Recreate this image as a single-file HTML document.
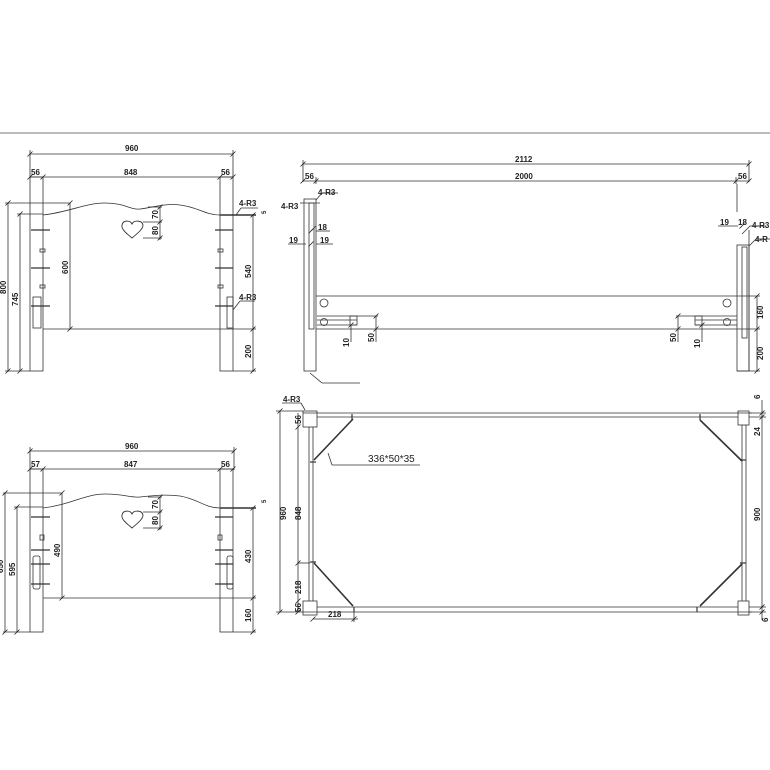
<!DOCTYPE html>
<html><head><meta charset="utf-8"><style>
html,body{margin:0;padding:0;background:#fff}
svg{display:block}
text{font-family:"Liberation Sans",sans-serif;font-size:8px;fill:#222;font-weight:bold}
</style></head><body>
<svg width="770" height="770" viewBox="0 0 770 770" xmlns="http://www.w3.org/2000/svg">
<defs>
<g id="tk"><line x1="-2.5" y1="2.5" x2="2.5" y2="-2.5" stroke="#222" stroke-width="0.8"/></g>
<path id="heart" d="M132,238 C126,233 121,229 122,225 C123,220 130,220 132,224 C134,220 142,220 143,225 C143,229 138,233 132,238 Z" fill="none" stroke="#333" stroke-width="0.9"/>
</defs>
<g fill="none" stroke="#333" stroke-width="0.8">
<line x1="0" y1="133" x2="770" y2="133" stroke="#777" stroke-width="1"/>

<!-- ===== TOP-LEFT VIEW ===== -->
<line x1="30" y1="154" x2="233" y2="154"/>
<line x1="30" y1="150" x2="30" y2="178"/><line x1="233" y1="150" x2="233" y2="178"/>
<line x1="30" y1="177" x2="233" y2="177"/>
<rect x="30" y="177" width="13" height="194"/>
<rect x="220" y="177" width="13" height="194"/>
<line x1="5" y1="203" x2="70" y2="203"/>
<line x1="17" y1="214" x2="43" y2="214"/>
<line x1="8" y1="203" x2="8" y2="371"/>
<line x1="20" y1="214" x2="20" y2="371"/>
<line x1="5" y1="371" x2="30" y2="371"/>
<path d="M43,215 C70,212 85,203 105,203 C125,203 130,210 140,209 C150,208 165,203 180,205 C198,207 205,215 220,215"/>
<line x1="220" y1="215" x2="256" y2="215" stroke-width="1.4"/>
<line x1="70" y1="203" x2="70" y2="329"/>
<line x1="43" y1="329" x2="256" y2="329"/>
<line x1="233" y1="371" x2="256" y2="371"/>
<line x1="253" y1="215" x2="253" y2="371"/>
<use href="#heart"/>
<line x1="143" y1="222" x2="162" y2="222"/><line x1="143" y1="238" x2="162" y2="238"/>
<line x1="148" y1="207" x2="162" y2="207"/>
<line x1="160" y1="207" x2="160" y2="240"/>
<line x1="31" y1="230" x2="50" y2="230" stroke-width="1.3"/><line x1="31" y1="268" x2="50" y2="268" stroke-width="1.3"/><line x1="31" y1="306" x2="50" y2="306" stroke-width="1.3"/>
<rect x="40" y="249" width="5" height="3"/><rect x="40" y="285" width="5" height="3"/>
<rect x="33" y="297" width="8" height="31"/>
<line x1="215" y1="230" x2="233" y2="230" stroke-width="1.3"/><line x1="215" y1="268" x2="233" y2="268" stroke-width="1.3"/><line x1="215" y1="306" x2="233" y2="306" stroke-width="1.3"/>
<rect x="218" y="249" width="5" height="3"/><rect x="218" y="285" width="5" height="3"/>
<rect x="227" y="297" width="6" height="31"/>
<line x1="233" y1="310" x2="240" y2="301"/><line x1="240" y1="301" x2="255" y2="301"/>
<line x1="236" y1="215" x2="241" y2="208"/><line x1="241" y1="208" x2="258" y2="208"/>

<!-- ===== BOTTOM-LEFT VIEW ===== -->
<line x1="30" y1="451" x2="234" y2="451"/>
<line x1="30" y1="447" x2="30" y2="470"/><line x1="234" y1="447" x2="234" y2="470"/>
<line x1="30" y1="469" x2="234" y2="469"/>
<rect x="30" y="469" width="13" height="163"/>
<rect x="220" y="469" width="13" height="163"/>
<line x1="3" y1="493" x2="62" y2="493"/>
<line x1="14" y1="507" x2="43" y2="507"/>
<line x1="5" y1="493" x2="5" y2="632"/>
<line x1="17" y1="507" x2="17" y2="632"/>
<line x1="3" y1="632" x2="30" y2="632"/>
<path d="M43,508 C70,505 85,494 105,494 C125,494 130,498 140,497 C150,496 165,494 180,496 C198,499 205,508 220,508"/>
<line x1="220" y1="508" x2="256" y2="508" stroke-width="1.4"/>
<line x1="62" y1="493" x2="62" y2="598"/>
<line x1="43" y1="598" x2="256" y2="598"/>
<line x1="233" y1="632" x2="256" y2="632"/>
<line x1="253" y1="508" x2="253" y2="632"/>
<use href="#heart" transform="translate(0,290)"/>
<line x1="143" y1="512" x2="162" y2="512"/><line x1="143" y1="528" x2="162" y2="528"/>
<line x1="148" y1="497" x2="162" y2="497"/>
<line x1="160" y1="497" x2="160" y2="530"/>
<line x1="31" y1="517" x2="50" y2="517" stroke-width="1.3"/><line x1="31" y1="550" x2="50" y2="550" stroke-width="1.3"/><line x1="31" y1="564" x2="50" y2="564" stroke-width="1.3"/><line x1="31" y1="584" x2="50" y2="584" stroke-width="1.3"/>
<rect x="40" y="535" width="4" height="5"/>
<rect x="33" y="556" width="7" height="33" rx="2"/>
<line x1="215" y1="517" x2="233" y2="517" stroke-width="1.3"/><line x1="215" y1="550" x2="233" y2="550" stroke-width="1.3"/><line x1="215" y1="564" x2="233" y2="564" stroke-width="1.3"/><line x1="215" y1="584" x2="233" y2="584" stroke-width="1.3"/>
<rect x="218" y="535" width="4" height="5"/>
<rect x="227" y="556" width="6" height="33" rx="2"/>

<!-- ===== TOP-RIGHT SIDE VIEW ===== -->
<line x1="303" y1="164" x2="749" y2="164"/>
<line x1="303" y1="160" x2="303" y2="182"/><line x1="749" y1="160" x2="749" y2="182"/>
<line x1="303" y1="181" x2="749" y2="181"/>
<line x1="316" y1="177" x2="316" y2="184"/><line x1="736" y1="177" x2="736" y2="184"/>
<rect x="304" y="199" width="12" height="172"/>
<rect x="309" y="203" width="5" height="126"/>
<line x1="316" y1="296" x2="760" y2="296"/>
<line x1="316" y1="329" x2="760" y2="329"/>
<line x1="737" y1="184" x2="737" y2="212"/>
<rect x="737" y="245" width="12" height="126"/>
<line x1="749" y1="230" x2="749" y2="371"/>
<rect x="742" y="247" width="5" height="91"/>
<line x1="737" y1="371" x2="760" y2="371"/>
<line x1="757" y1="296" x2="757" y2="371"/>
<circle cx="324" cy="303" r="4"/><circle cx="324" cy="322" r="3.5"/>
<circle cx="727" cy="303" r="4"/><circle cx="727" cy="322" r="3.5"/>
<line x1="317" y1="316" x2="357" y2="316"/><line x1="317" y1="320" x2="357" y2="320"/><line x1="317" y1="325" x2="357" y2="325"/>
<rect x="350" y="316" width="7" height="9"/>
<line x1="357" y1="316" x2="378" y2="316"/><line x1="376" y1="316" x2="376" y2="342"/>
<line x1="351" y1="325" x2="351" y2="342"/>
<line x1="695" y1="316" x2="737" y2="316"/><line x1="695" y1="320" x2="737" y2="320"/><line x1="695" y1="325" x2="737" y2="325"/>
<rect x="695" y="316" width="7" height="9"/>
<line x1="676" y1="316" x2="695" y2="316"/><line x1="678" y1="316" x2="678" y2="342"/>
<line x1="702" y1="325" x2="702" y2="342"/>
<line x1="310" y1="373" x2="322" y2="383"/><line x1="322" y1="383" x2="360" y2="383"/>
<line x1="300" y1="203" x2="320" y2="203"/><line x1="316" y1="200" x2="322" y2="193"/><line x1="322" y1="193" x2="338" y2="193"/>
<line x1="311" y1="231" x2="316" y2="226"/><line x1="316" y1="231" x2="330" y2="231"/>
<line x1="288" y1="244" x2="306" y2="244"/><line x1="316" y1="244" x2="333" y2="244"/>
<line x1="742" y1="234" x2="750" y2="226"/><line x1="750" y1="226" x2="766" y2="226"/>
<line x1="749" y1="246" x2="756" y2="239"/><line x1="756" y1="239" x2="770" y2="239"/>
<line x1="718" y1="226" x2="738" y2="226"/>

<!-- ===== BOTTOM-RIGHT PLAN VIEW ===== -->
<line x1="303" y1="413" x2="752" y2="413"/>
<line x1="317" y1="417" x2="738" y2="417"/>
<line x1="317" y1="607" x2="738" y2="607"/>
<line x1="303" y1="612" x2="752" y2="612"/>
<rect x="303" y="411" width="14" height="16"/>
<rect x="303" y="601" width="14" height="14"/>
<rect x="738" y="411" width="11" height="14"/>
<rect x="738" y="601" width="11" height="14"/>
<line x1="309" y1="427" x2="309" y2="601"/><line x1="313" y1="427" x2="313" y2="601"/>
<line x1="742" y1="425" x2="742" y2="601"/><line x1="746" y1="425" x2="746" y2="601"/>
<g stroke-width="1.6">
<line x1="314" y1="460" x2="353" y2="419"/>
<line x1="700" y1="420" x2="742" y2="461"/>
<line x1="314" y1="563" x2="353" y2="606"/>
<line x1="700" y1="606" x2="742" y2="564"/>
</g>
<g stroke-width="1.2">
<line x1="352" y1="414" x2="352" y2="420"/><line x1="700" y1="414" x2="700" y2="420"/>
<line x1="354" y1="607" x2="354" y2="612"/><line x1="697" y1="607" x2="697" y2="612"/>
<line x1="310" y1="462" x2="316" y2="462"/><line x1="310" y1="562" x2="316" y2="562"/>
<line x1="740" y1="460" x2="746" y2="460"/><line x1="740" y1="563" x2="746" y2="563"/>
</g>
<line x1="328" y1="453" x2="332" y2="465"/><line x1="332" y1="465" x2="420" y2="465"/>
<line x1="280" y1="411" x2="280" y2="612"/>
<line x1="298" y1="413" x2="298" y2="612"/>
<line x1="276" y1="411" x2="303" y2="411"/><line x1="276" y1="612" x2="303" y2="612"/>
<line x1="298" y1="563" x2="310" y2="563"/>
<line x1="313" y1="619" x2="358" y2="619"/><line x1="354" y1="612" x2="354" y2="622"/>
<line x1="282" y1="403" x2="301" y2="403"/><line x1="301" y1="403" x2="305" y2="410"/>
<line x1="762" y1="400" x2="762" y2="620"/>
<line x1="749" y1="413" x2="766" y2="413"/><line x1="749" y1="417" x2="766" y2="417"/>
<line x1="749" y1="607" x2="766" y2="607"/><line x1="749" y1="612" x2="766" y2="612"/>
</g>

<g>
<use href="#tk" x="30" y="154"/><use href="#tk" x="233" y="154"/>
<use href="#tk" x="30" y="177"/><use href="#tk" x="43" y="177"/><use href="#tk" x="220" y="177"/><use href="#tk" x="233" y="177"/>
<use href="#tk" x="8" y="203"/><use href="#tk" x="8" y="371"/><use href="#tk" x="20" y="214"/><use href="#tk" x="20" y="371"/>
<use href="#tk" x="70" y="203"/><use href="#tk" x="70" y="329"/>
<use href="#tk" x="253" y="215"/><use href="#tk" x="253" y="329"/><use href="#tk" x="253" y="371"/>
<use href="#tk" x="160" y="207"/><use href="#tk" x="160" y="222"/><use href="#tk" x="160" y="238"/>
<use href="#tk" x="30" y="451"/><use href="#tk" x="234" y="451"/>
<use href="#tk" x="30" y="469"/><use href="#tk" x="43" y="469"/><use href="#tk" x="220" y="469"/><use href="#tk" x="233" y="469"/>
<use href="#tk" x="5" y="493"/><use href="#tk" x="5" y="632"/><use href="#tk" x="17" y="507"/><use href="#tk" x="17" y="632"/>
<use href="#tk" x="62" y="493"/><use href="#tk" x="62" y="598"/>
<use href="#tk" x="253" y="508"/><use href="#tk" x="253" y="598"/><use href="#tk" x="253" y="632"/>
<use href="#tk" x="160" y="497"/><use href="#tk" x="160" y="512"/><use href="#tk" x="160" y="528"/>
<use href="#tk" x="303" y="164"/><use href="#tk" x="749" y="164"/>
<use href="#tk" x="303" y="181"/><use href="#tk" x="316" y="181"/><use href="#tk" x="736" y="181"/><use href="#tk" x="749" y="181"/>
<use href="#tk" x="757" y="296"/><use href="#tk" x="757" y="329"/><use href="#tk" x="757" y="371"/>
<use href="#tk" x="376" y="316"/><use href="#tk" x="376" y="329"/><use href="#tk" x="351" y="325"/>
<use href="#tk" x="678" y="316"/><use href="#tk" x="678" y="329"/><use href="#tk" x="702" y="325"/>
<use href="#tk" x="280" y="411"/><use href="#tk" x="280" y="612"/>
<use href="#tk" x="298" y="427"/><use href="#tk" x="298" y="563"/><use href="#tk" x="298" y="601"/><use href="#tk" x="298" y="612"/>
<use href="#tk" x="313" y="619"/><use href="#tk" x="354" y="619"/>
<use href="#tk" x="762" y="413"/><use href="#tk" x="762" y="417"/><use href="#tk" x="762" y="607"/><use href="#tk" x="762" y="612"/>
<use href="#tk" x="311" y="231"/><use href="#tk" x="311" y="244"/><use href="#tk" x="742" y="226"/>
</g>

<text x="125" y="151">960</text>
<text x="31" y="175">56</text><text x="124" y="175">848</text><text x="221" y="175">56</text>
<text x="239" y="206">4-R3</text><text x="239" y="300">4-R3</text>
<text transform="translate(266,214) rotate(-90)" style="font-size:6px">5</text>
<text transform="translate(6,294) rotate(-90)">800</text>
<text transform="translate(18,306) rotate(-90)">745</text>
<text transform="translate(68,274) rotate(-90)">600</text>
<text transform="translate(158,219) rotate(-90)">70</text>
<text transform="translate(158,235) rotate(-90)">80</text>
<text transform="translate(251,278) rotate(-90)">540</text>
<text transform="translate(251,358) rotate(-90)">200</text>

<text x="125" y="449">960</text>
<text x="31" y="467">57</text><text x="124" y="467">847</text><text x="221" y="467">56</text>
<text transform="translate(266,503) rotate(-90)" style="font-size:6px">5</text>
<text transform="translate(3,573) rotate(-90)">650</text>
<text transform="translate(15,576) rotate(-90)">595</text>
<text transform="translate(60,557) rotate(-90)">490</text>
<text transform="translate(158,509) rotate(-90)">70</text>
<text transform="translate(158,525) rotate(-90)">80</text>
<text transform="translate(251,563) rotate(-90)">430</text>
<text transform="translate(251,622) rotate(-90)">160</text>

<text x="515" y="162">2112</text>
<text x="515" y="179">2000</text>
<text x="305" y="179">56</text><text x="738" y="179">56</text>
<text x="318" y="195">4-R3</text><text x="281" y="209">4-R3</text>
<text x="318" y="230">18</text><text x="289" y="243">19</text><text x="320" y="243">19</text>
<text x="720" y="225">19</text><text x="738" y="225">18</text><text x="752" y="228">4-R3</text><text x="755" y="242">4-R</text>
<text transform="translate(763,319) rotate(-90)">160</text>
<text transform="translate(763,360) rotate(-90)">200</text>
<text transform="translate(349,347) rotate(-90)">10</text>
<text transform="translate(374,342) rotate(-90)">50</text>
<text transform="translate(676,342) rotate(-90)">50</text>
<text transform="translate(700,348) rotate(-90)">10</text>

<text x="283" y="402">4-R3</text>
<text x="368" y="462" style="font-size:10px;font-weight:normal">336*50*35</text>
<text transform="translate(286,520) rotate(-90)">960</text>
<text transform="translate(301,520) rotate(-90)">848</text>
<text transform="translate(301,424) rotate(-90)">56</text>
<text transform="translate(301,594) rotate(-90)">218</text>
<text transform="translate(301,612) rotate(-90)">56</text>
<text x="328" y="617">218</text>
<text transform="translate(760,521) rotate(-90)">900</text>
<text transform="translate(760,436) rotate(-90)">24</text>
<text transform="translate(760,399) rotate(-90)">6</text>
<text transform="translate(768,622) rotate(-90)">6</text>
</svg>
</body></html>
